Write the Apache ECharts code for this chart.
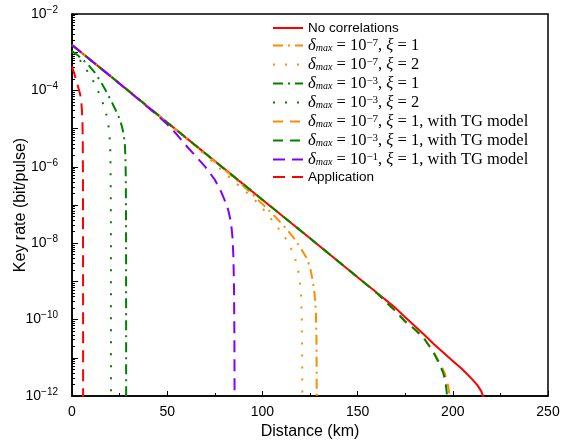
<!DOCTYPE html>
<html><head><meta charset="utf-8">
<script src="https://cdn.jsdelivr.net/npm/echarts@6/dist/echarts.min.js"></script>
<style>html,body{margin:0;padding:0;background:#fff}#c{width:569px;height:440px}</style>
</head><body><div id="c"></div>
<script>
// ---- data (distance in km, key rate in bit/pulse) ----
const seriesNames = [
  'No correlations',
  'δmax = 10⁻⁷, ξ = 1',
  'δmax = 10⁻⁷, ξ = 2',
  'δmax = 10⁻³, ξ = 1',
  'δmax = 10⁻³, ξ = 2',
  'δmax = 10⁻⁷, ξ = 1, with TG model',
  'δmax = 10⁻³, ξ = 1, with TG model',
  'δmax = 10⁻¹, ξ = 1, with TG model',
  'Application'
];
const deltaExp = [null, -7, -7, -3, -3, -7, -3, -1, null];
const xiVals   = [null, 1, 2, 1, 2, 1, 1, 1, null];
const tgFlags  = [false, false, false, false, false, true, true, true, false];

const distNoCorr = [0,25,50,75,100,125,150,160,170,175,180,185,190,195,200,205,210,213,215,216,216.5];
const rateNoCorr = [1.55e-3,1.51e-4,1.45e-5,1.41e-6,1.38e-7,1.35e-8,1.29e-9,5.1e-10,2.0e-10,1.15e-10,6.8e-11,4.0e-11,2.3e-11,1.38e-11,8.3e-12,5.0e-12,2.8e-12,1.9e-12,1.32e-12,9.5e-13,4e-13];

const distD7X1 = [0,25,50,75,85,90,96,101,106,111,116,120,123,125,126.5,127.5,128.1,128.4,128.5,128.55];
const rateD7X1 = [1.55e-3,1.51e-4,1.45e-5,1.38e-6,5.25e-7,3.16e-7,1.66e-7,9.5e-8,5.4e-8,2.9e-8,1.48e-8,7.6e-9,4.3e-9,2.4e-9,1.0e-9,4.2e-10,1.6e-10,3.2e-11,3.2e-12,3.2e-13];

const distD7X2 = [0,25,50,65,75,85,94,99,104,109,113,116,118,119.5,120.3,120.7,120.9,121];
const rateD7X2 = [1.55e-3,1.51e-4,1.41e-5,3.47e-6,1.2e-6,4.17e-7,1.7e-7,9.5e-8,4.7e-8,2.24e-8,1.17e-8,5.75e-9,2.95e-9,1.26e-9,4.0e-10,1.0e-10,1.0e-11,3.2e-13];

const distD3X1 = [0,3,6,9,12,15,18,20,22,24,25.5,26.5,27.3,27.8,28.1,28.3,28.4,28.45];
const rateD3X1 = [1.07e-3,8.3e-4,6.2e-4,4.4e-4,2.9e-4,1.74e-4,9.3e-5,6.0e-5,3.8e-5,2.4e-5,1.51e-5,1.0e-5,6.3e-6,3.55e-6,1.58e-6,3.2e-7,1.0e-8,3.2e-13];

const distD3X2 = [0,2.5,5,7.5,10,12,14,16,17.5,18.7,19.5,20,20.2,20.35,20.45,20.5];
const rateD3X2 = [1.07e-3,7.9e-4,5.4e-4,3.55e-4,2.24e-4,1.48e-4,8.9e-5,5.0e-5,2.95e-5,1.7e-5,8.9e-6,4.0e-6,1.58e-6,2.5e-7,1.0e-8,3.2e-13];

const distD7TG = [0,25,50,75,100,125,150,160,170,175,180,185,190,193,195,196.5,197.5,198.2,198.6];
const rateD7TG = [1.55e-3,1.51e-4,1.45e-5,1.41e-6,1.38e-7,1.35e-8,1.29e-9,5.0e-10,1.66e-10,8.9e-11,5.6e-11,3.16e-11,1.41e-11,7.6e-12,4.8e-12,3.16e-12,1.9e-12,1.12e-12,5e-13];

const distD3TG = [0,25,50,75,100,125,150,160,170,175,180,185,190,193,195,196.2,196.8,197.1];
const rateD3TG = [1.55e-3,1.51e-4,1.45e-5,1.41e-6,1.38e-7,1.35e-8,1.29e-9,5.0e-10,1.66e-10,8.9e-11,5.6e-11,3.16e-11,1.35e-11,6.8e-12,4.0e-12,2.24e-12,1.26e-12,5e-13];

const distD1TG = [0,20,35,45,50,55,60,65,70,75,78,80,82,83.5,84.3,84.8,85.1,85.3,85.4];
const rateD1TG = [1.55e-3,2.4e-4,5.75e-5,2.2e-5,1.29e-5,7.1e-6,3.55e-6,1.9e-6,1.0e-6,4.6e-7,2.4e-7,1.41e-7,7.6e-8,3.55e-8,1.41e-8,4.0e-9,6.3e-10,3.2e-11,3.2e-13];

const distApp = [0,1,2,3,4,4.7,5.2,5.5,5.65,5.75,5.8,5.85];
const rateApp = [4.2e-4,2.95e-4,2.0e-4,1.35e-4,8.9e-5,6.3e-5,3.16e-5,1.41e-5,5.0e-6,6.3e-7,1.0e-8,3.2e-13];

const xTicks = [0, 50, 100, 150, 200, 250];
const yMajorTicks = [1e-12,1e-11,1e-10,1e-9,1e-8,1e-7,1e-6,1e-5,1e-4,1e-3,1e-2];
const yLabelTicks = [1e-12,1e-10,1e-8,1e-6,1e-4,1e-2];

// ---- build ----
const yMinorTicks = [];
for (let e = -12; e < -2; e++) for (let m = 2; m <= 9; m++) yMinorTicks.push(+(m + 'e' + e));

const allDist = [distNoCorr, distD7X1, distD7X2, distD3X1, distD3X2, distD7TG, distD3TG, distD1TG, distApp];
const allRate = [rateNoCorr, rateD7X1, rateD7X2, rateD3X1, rateD3X2, rateD7TG, rateD3TG, rateD1TG, rateApp];
const colors = ['#ff0000','#ff8c00','#ff8c00','#008000','#008000','#ff8c00','#008000','#8000ff','#ff0000'];
const dashes = ['solid',[10,5,2,5],[2,10],[10,5,2,5],[2,10],[10,7],[10,7],[12,7],[12,7]];

const SANS = '"Liberation Sans", Arial, sans-serif';
const SERIF = '"Liberation Serif", "DejaVu Serif", serif';

const series = seriesNames.map((nm, i) => ({
  name: nm, type: 'line', symbol: 'none', smooth: false, clip: true,
  data: allDist[i].map((d, k) => [d, allRate[i][k]]),
  lineStyle: { color: colors[i], width: 2, type: dashes[i], cap: 'butt' },
  itemStyle: { color: colors[i] },
  emphasis: { disabled: true }
}));

function legendFmt(name) {
  const i = seriesNames.indexOf(name);
  if (deltaExp[i] === null) return '{s|' + name + '}';
  return '{d|δ}{sub|max}{n| = 10}{sup|−' + (-deltaExp[i]) + '}{n|, }{d|ξ}{n| = ' + xiVals[i] +
    (tgFlags[i] ? ', with TG model' : '') + '}';
}
function yFmt(v) {
  const e = Math.round(Math.log10(v));
  return '{b|10}{p|' + (e < 0 ? '−' : '') + Math.abs(e) + '}';
}

const chart = echarts.init(document.getElementById('c'), null, { renderer: 'canvas' });
chart.setOption({
  animation: false,
  backgroundColor: '#fff',
  grid: { left: 72, right: 21, top: 14, bottom: 44, outerBoundsMode: 'none', containLabel: false,
          show: true, borderColor: '#000', borderWidth: 1.5, backgroundColor: 'transparent' },
  legend: {
    orient: 'vertical', left: 272, top: 21, padding: 0, itemWidth: 30, itemHeight: 14, itemGap: 2,
    data: seriesNames, formatter: legendFmt, selectedMode: false,
    itemStyle: { opacity: 0 },
    textStyle: {
      color: '#000',
      rich: {
        s: { fontFamily: SANS, fontSize: 13.5, lineHeight: 16, color: '#000' },
        d: { fontFamily: SERIF, fontStyle: 'italic', fontSize: 16.5, lineHeight: 16, color: '#000' },
        n: { fontFamily: SERIF, fontSize: 16.5, lineHeight: 16, color: '#000' },
        sub: { fontFamily: SERIF, fontStyle: 'italic', fontSize: 10, lineHeight: 8, verticalAlign: 'bottom', color: '#000' },
        sup: { fontFamily: SERIF, fontSize: 11, lineHeight: 6, verticalAlign: 'top', color: '#000' }
      }
    }
  },
  xAxis: {
    type: 'value', min: 0, max: 250, interval: 50,
    name: 'Distance (km)', nameLocation: 'middle', nameGap: 28, nameMoveOverlap: false,
    nameTextStyle: { fontFamily: SANS, fontSize: 16, color: '#000' },
    axisLine: { show: true, onZero: false, lineStyle: { color: '#000', width: 1.5 } },
    axisTick: { show: true, inside: true, length: 5, lineStyle: { color: '#000', width: 1 } },
    minorTick: { show: true, splitNumber: 2, length: 3, lineStyle: { color: '#000', width: 1 } },
    axisLabel: { fontFamily: SANS, fontSize: 14, color: '#000', margin: 9 },
    splitLine: { show: false }
  },
  yAxis: [{
    type: 'log', logBase: 10, min: 1e-12, max: 1e-2,
    name: 'Key rate (bit/pulse)', nameLocation: 'middle', nameGap: 43, nameMoveOverlap: false,
    nameTextStyle: { fontFamily: SANS, fontSize: 16, color: '#000' },
    axisLine: { show: true, lineStyle: { color: '#000', width: 1.5 } },
    axisTick: { show: true, inside: true, length: 6, customValues: yMajorTicks, lineStyle: { color: '#000', width: 1 } },
    axisLabel: {
      customValues: yLabelTicks, formatter: yFmt, margin: 14, color: '#000',
      rich: {
        b: { fontFamily: SANS, fontSize: 14, lineHeight: 18, color: '#000' },
        p: { fontFamily: SANS, fontSize: 10, lineHeight: 6, verticalAlign: 'top', color: '#000' }
      }
    },
    splitLine: { show: false }
  }, {
    type: 'log', logBase: 10, min: 1e-12, max: 1e-2, position: 'left',
    axisLine: { show: false },
    axisTick: { show: true, inside: true, length: 3, customValues: yMinorTicks, lineStyle: { color: '#000', width: 1 } },
    axisLabel: { show: false },
    splitLine: { show: false }
  }],
  series: series
});
</script>
</body></html>
